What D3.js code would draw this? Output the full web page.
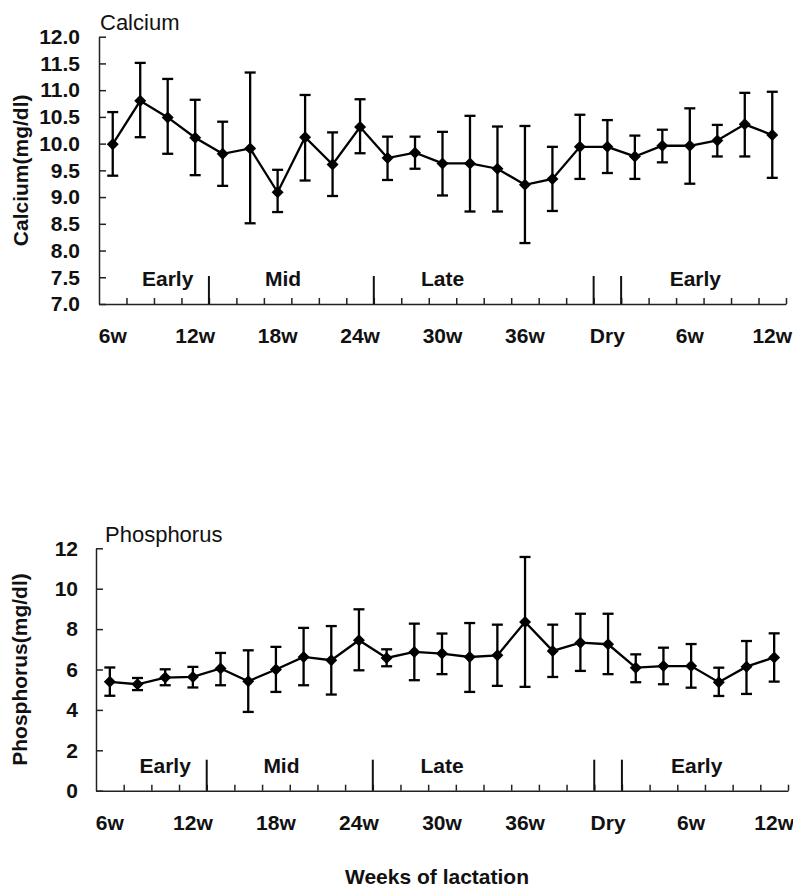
<!DOCTYPE html>
<html>
<head>
<meta charset="utf-8">
<script src="https://cdn.jsdelivr.net/npm/d3@7/dist/d3.min.js"></script>
<style>
    body { margin: 0; background: #fff; }
    svg { display: block; }
    text { font-family: "Liberation Sans", Arial, sans-serif; fill: #111; }
</style>
</head>
<body>
<script>
// categories along the x axis (two lactations with a dry period between)
var categories = ["6w", "8w", "10w", "12w", "14w", "16w", "18w", "20w", "22w", "24w",
    "26w", "28w", "30w", "32w", "34w", "36w", "38w", "40w", "Dry",
    "2w", "4w", "6w", "8w", "10w", "12w"];
var labelledIdx = [0, 3, 6, 9, 12, 15, 18, 21, 24];

// stage markers: boundaries (in category units) and labels
var stageBreaks = [4, 10, 18, 19];
var stageNames = ["Early", "Mid", "Late", "Early"];
var stageAt = [2, 6.2, 12, 21.2];

// Calcium (mg/dl): mean, upper and lower end of the error bar
var caMean = [9.99, 10.80, 10.49, 10.11, 9.81, 9.91, 9.09, 10.12, 9.61, 10.31,
    9.73, 9.83, 9.63, 9.63, 9.53, 9.23, 9.34, 9.94, 9.94,
    9.76, 9.96, 9.96, 10.06, 10.36, 10.16];
var caHigh = [10.59, 11.51, 11.21, 10.82, 10.41, 11.33, 9.51, 10.91, 10.21, 10.83,
    10.13, 10.13, 10.22, 10.52, 10.32, 10.33, 9.94, 10.54, 10.44,
    10.15, 10.26, 10.66, 10.35, 10.95, 10.97];
var caLow = [9.40, 10.12, 9.81, 9.41, 9.21, 8.51, 8.72, 9.31, 9.02, 9.82,
    9.32, 9.53, 9.03, 8.73, 8.73, 8.14, 8.74, 9.34, 9.45,
    9.34, 9.65, 9.25, 9.76, 9.76, 9.36];
var caTicks = [7.0, 7.5, 8.0, 8.5, 9.0, 9.5, 10.0, 10.5, 11.0, 11.5, 12.0];

// Phosphorus (mg/dl)
var pMean = [5.39, 5.27, 5.60, 5.63, 6.05, 5.42, 6.00, 6.62, 6.46, 7.45,
    6.57, 6.87, 6.79, 6.62, 6.70, 8.35, 6.92, 7.33, 7.25,
    6.09, 6.17, 6.17, 5.37, 6.14, 6.60];
var pHigh = [6.10, 5.58, 6.01, 6.13, 6.82, 6.95, 7.12, 8.06, 8.15, 8.98,
    7.00, 8.27, 7.78, 8.30, 8.22, 11.57, 8.22, 8.76, 8.76,
    6.75, 7.08, 7.26, 6.09, 7.41, 7.79];
var pLow = [4.70, 4.98, 5.22, 5.11, 5.22, 3.90, 4.89, 5.22, 4.76, 5.96,
    6.16, 5.47, 5.77, 4.89, 5.19, 5.14, 5.63, 5.93, 5.77,
    5.37, 5.27, 5.10, 4.69, 4.79, 5.40];
var pTicks = [0, 2, 4, 6, 8, 10, 12];

var svg = d3.select("body").append("svg")
    .attr("width", 793)
    .attr("height", 887);

function panel(o) {
    var g = svg.append("g");
    var n = categories.length;

    var x = d3.scaleBand().domain(d3.range(n)).range([o.left, o.right]);
    var xPos = d3.scaleLinear().domain([0, n]).range([o.left, o.right]);
    var y = d3.scaleLinear().domain(o.domain).range([o.bottom, o.top]);
    var cx = function (i) { return x(i) + x.bandwidth() / 2; };

    // y axis, ticks pointing inward
    var yAxis = g.append("g")
        .attr("transform", "translate(" + o.left + ",0)")
        .call(d3.axisLeft(y).tickValues(o.ticks)
            .tickFormat(d3.format(o.fmt))
            .tickSizeInner(-7).tickSizeOuter(0).tickPadding(o.pad));
    yAxis.selectAll("path,line").attr("stroke", "#222").attr("stroke-width", 1.5);
    yAxis.selectAll("text").style("font-size", "21px").style("font-weight", "bold");

    // x axis: short ticks at category boundaries
    var xAxis = g.append("g")
        .attr("transform", "translate(0," + o.bottom + ")")
        .call(d3.axisBottom(xPos).tickValues(d3.range(1, n + 1))
            .tickFormat("").tickSizeInner(-6).tickSizeOuter(0));
    xAxis.selectAll("path,line").attr("stroke", "#222").attr("stroke-width", 1.5);

    // x labels
    var xLab = g.append("g")
        .attr("transform", "translate(0," + o.bottom + ")")
        .call(d3.axisBottom(x).tickValues(labelledIdx)
            .tickFormat(function (i) { return categories[i]; })
            .tickSize(0).tickPadding(24));
    xLab.select(".domain").remove();
    xLab.selectAll("text").style("font-size", "21px").style("font-weight", "bold");

    // stage separators
    g.selectAll("line.stage")
        .data(stageBreaks)
        .enter().append("line")
        .attr("class", "stage")
        .attr("x1", function (d) { return xPos(d); })
        .attr("x2", function (d) { return xPos(d); })
        .attr("y1", o.bottom)
        .attr("y2", o.bottom - o.tall)
        .attr("stroke", "#111")
        .attr("stroke-width", 2);

    g.selectAll("text.stage")
        .data(stageNames)
        .enter().append("text")
        .attr("class", "stage")
        .attr("x", function (d, i) { return xPos(stageAt[i] + 0.5); })
        .attr("y", o.bottom - 18)
        .attr("text-anchor", "middle")
        .style("font-size", "21px")
        .style("font-weight", "bold")
        .text(function (d) { return d; });

    // titles
    g.append("text")
        .attr("x", o.titleX)
        .attr("y", o.titleY)
        .style("font-size", "22px")
        .text(o.title);

    g.append("text")
        .attr("transform", "translate(" + o.labelX + "," + ((o.top + o.bottom) / 2) + ") rotate(-90)")
        .attr("text-anchor", "middle")
        .style("font-size", "21px")
        .style("font-weight", "bold")
        .text(o.label);

    // error bars
    var idx = d3.range(n);
    var bars = g.selectAll("g.err").data(idx).enter().append("g").attr("class", "err")
        .attr("stroke", "#000").attr("stroke-width", 2.3);
    bars.append("line")
        .attr("x1", cx).attr("x2", cx)
        .attr("y1", function (i) { return y(o.high[i]); })
        .attr("y2", function (i) { return y(o.low[i]); });
    bars.append("line")
        .attr("x1", function (i) { return cx(i) - 5.5; })
        .attr("x2", function (i) { return cx(i) + 5.5; })
        .attr("y1", function (i) { return y(o.high[i]); })
        .attr("y2", function (i) { return y(o.high[i]); });
    bars.append("line")
        .attr("x1", function (i) { return cx(i) - 5.5; })
        .attr("x2", function (i) { return cx(i) + 5.5; })
        .attr("y1", function (i) { return y(o.low[i]); })
        .attr("y2", function (i) { return y(o.low[i]); });

    // mean line
    var line = d3.line()
        .x(function (i) { return cx(i); })
        .y(function (i) { return y(o.mean[i]); });
    g.append("path")
        .datum(idx)
        .attr("d", line)
        .attr("fill", "none")
        .attr("stroke", "#000")
        .attr("stroke-width", 2.3);

    // diamonds
    g.selectAll("path.pt")
        .data(idx)
        .enter().append("path")
        .attr("class", "pt")
        .attr("d", d3.symbol(d3.symbolSquare, 72))
        .attr("transform", function (i) {
            return "translate(" + cx(i) + "," + y(o.mean[i]) + ") rotate(45)";
        })
        .attr("fill", "#000");
}

panel({
    left: 99, right: 786, top: 36.7, bottom: 304,
    domain: [7, 12], ticks: caTicks, fmt: ".1f", pad: 19,
    mean: caMean, high: caHigh, low: caLow,
    tall: 28,
    title: "Calcium", titleX: 100, titleY: 30,
    label: "Calcium(mg/dl)", labelX: 28
});

panel({
    left: 96, right: 788, top: 548.3, bottom: 790.7,
    domain: [0, 12], ticks: pTicks, fmt: "d", pad: 18,
    mean: pMean, high: pHigh, low: pLow,
    tall: 31,
    title: "Phosphorus", titleX: 105, titleY: 541.7,
    label: "Phosphorus(mg/dl)", labelX: 27
});

svg.append("text")
    .attr("x", 437)
    .attr("y", 884)
    .attr("text-anchor", "middle")
    .style("font-size", "21px")
    .style("font-weight", "bold")
    .text("Weeks of lactation");
</script>
</body>
</html>
